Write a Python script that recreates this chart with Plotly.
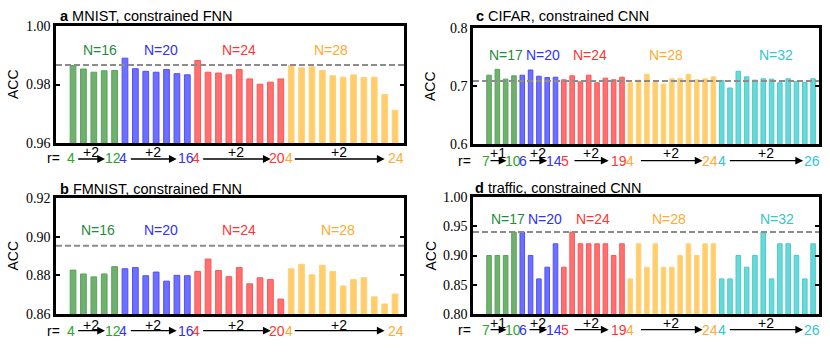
import plotly.graph_objects as go

W, H = 830, 355

# accuracy values (one list per N group)
mnist_n16 = [0.9865, 0.9853, 0.9842, 0.9847, 0.9848]
mnist_n20 = [0.9890, 0.9854, 0.9845, 0.9842, 0.9851, 0.9837, 0.9833]
mnist_n24 = [0.9882, 0.9842, 0.9839, 0.9833, 0.9851, 0.9819, 0.9801, 0.9808, 0.9819]
mnist_n28 = [0.9865, 0.9857, 0.9861, 0.9848, 0.9830, 0.9825, 0.9833, 0.9824, 0.9825, 0.9766, 0.9712]
mnist_ref = 0.9867

fmnist_n16 = [0.8827, 0.8807, 0.8792, 0.8807, 0.8845]
fmnist_n20 = [0.8834, 0.8840, 0.8798, 0.8817, 0.8770, 0.8800, 0.8798]
fmnist_n24 = [0.8820, 0.8884, 0.8825, 0.8793, 0.8840, 0.8756, 0.8787, 0.8778, 0.8677]
fmnist_n28 = [0.8834, 0.8857, 0.8803, 0.8852, 0.8820, 0.8745, 0.8778, 0.8788, 0.8689, 0.8652, 0.8703]
fmnist_ref = 0.8953

cifar_n17 = [0.7186, 0.7287, 0.7118, 0.7175]
cifar_n20 = [0.7186, 0.7276, 0.7169, 0.7146, 0.7152]
cifar_n24 = [0.7107, 0.7175, 0.7073, 0.7186, 0.7056, 0.7135, 0.7107, 0.7152]
cifar_n28 = [0.7056, 0.7101, 0.7203, 0.7079, 0.7034, 0.7124, 0.7130, 0.7203, 0.7107, 0.7124, 0.7158]
cifar_n32 = [0.7096, 0.6966, 0.7254, 0.7158, 0.7101, 0.7124, 0.7118, 0.7056, 0.7124, 0.7079, 0.7062, 0.7124]
cifar_ref = 0.7085

traffic_n17 = [0.90, 0.90, 0.90, 0.94]
traffic_n20 = [0.94, 0.90, 0.86, 0.88, 0.92]
traffic_n24 = [0.88, 0.94, 0.92, 0.92, 0.92, 0.92, 0.90, 0.92]
traffic_n28 = [0.86, 0.92, 0.88, 0.92, 0.88, 0.88, 0.90, 0.92, 0.90, 0.92, 0.92]
traffic_n32 = [0.86, 0.86, 0.90, 0.88, 0.90, 0.94, 0.86, 0.92, 0.92, 0.90, 0.86, 0.92]
traffic_ref = 0.94

fnn_sizes = [16, 20, 24, 28]
fnn_r_start = [4, 4, 4, 4]
fnn_r_end = [12, 16, 20, 24]
fnn_r_step = [2, 2, 2, 2]
cnn_sizes = [17, 20, 24, 28, 32]
cnn_r_start = [7, 6, 5, 4, 4]
cnn_r_end = [10, 14, 19, 24, 26]
cnn_r_step = [1, 2, 2, 2, 2]

# bar fill, bar edge, N-label text, r-label text
COLORS = [
    ("#70b070", "#58a458", "#1f8c3c", "#2aa52a"),
    ("#6e6eff", "#5050ff", "#3030ff", "#3030ff"),
    ("#ff7070", "#ff5555", "#ff3535", "#ff3535"),
    ("#ffcd6c", "#ffd27a", "#ffaa30", "#ffaa30"),
    ("#68d8d8", "#48cccc", "#30c6d2", "#30c6d2"),
]

# layout for the bottom r-labels (in bar units)
fnn_lab = dict(r_x=-1.92, start_x=[-0.22, 4.84, 11.87, 20.76], end_x=[3.85, 10.86, 19.63, 31.07],
               arrows=[(0.35, 3.08), (5.42, 9.98), (12.38, 19.03), (21.2, 30.0)])
cnn_lab = dict(r_x=-3.0, start_x=[-0.4, 4.1, 9.2, 17.0, 28.0], end_x=[2.9, 7.8, 15.6, 26.6, 38.9],
               arrows=[(0.0, 2.1), (4.7, 7.0), (10.1, 14.4), (18.1, 25.7), (28.8, 37.8)])

panels = [
    dict(letter="a", title="MNIST, constrained FNN", groups=[mnist_n16, mnist_n20, mnist_n24, mnist_n28],
         sizes=fnn_sizes, rs=fnn_r_start, re=fnn_r_end, rstep=fnn_r_step, ref=mnist_ref,
         yrange=[0.96, 1.0], ticks=[0.96, 0.98, 1.0], fmt=".2f",
         box=(56, 404, 26, 143), xr=(-1.64, 31.86), title_xy=(58, 16), acc_x=12.5,
         n_y=50, n_x=[2.57, 8.45, 16.0, 24.8], lab_y=158, step_y=151.5, arrow_y=159, lab=fnn_lab),
    dict(letter="b", title="FMNIST, constrained FNN", groups=[fmnist_n16, fmnist_n20, fmnist_n24, fmnist_n28],
         sizes=fnn_sizes, rs=fnn_r_start, re=fnn_r_end, rstep=fnn_r_step, ref=fmnist_ref,
         yrange=[0.86, 0.92], ticks=[0.86, 0.88, 0.90, 0.92], fmt=".2f",
         box=(56, 404, 198, 314), xr=(-1.64, 31.86), title_xy=(58, 189.5), acc_x=12.5,
         n_y=230, n_x=[2.44, 8.45, 16.0, 25.5], lab_y=331, step_y=324.5, arrow_y=330.7, lab=fnn_lab),
    dict(letter="c", title="CIFAR, constrained CNN", groups=[cifar_n17, cifar_n20, cifar_n24, cifar_n28, cifar_n32],
         sizes=cnn_sizes, rs=cnn_r_start, re=cnn_r_end, rstep=cnn_r_step, ref=cifar_ref,
         yrange=[0.6, 0.8], ticks=[0.6, 0.7, 0.8], fmt=".1f",
         box=(473, 819, 28, 144), xr=(-1.93, 39.71), title_xy=(474, 16), acc_x=430,
         n_y=55, n_x=[2.0, 6.44, 12.1, 21.3, 34.5], lab_y=161, step_y=153.3, arrow_y=160.7, lab=cnn_lab),
    dict(letter="d", title="traffic, constrained CNN", groups=[traffic_n17, traffic_n20, traffic_n24, traffic_n28, traffic_n32],
         sizes=cnn_sizes, rs=cnn_r_start, re=cnn_r_end, rstep=cnn_r_step, ref=traffic_ref,
         yrange=[0.8, 1.0], ticks=[0.80, 0.85, 0.90, 0.95, 1.00], fmt=".2f",
         box=(473, 819, 197, 314), xr=(-1.93, 39.71), title_xy=(473, 188), acc_x=430,
         n_y=218.7, n_x=[2.33, 6.7, 12.55, 21.6, 34.7], lab_y=329.7, step_y=323, arrow_y=329.7, lab=cnn_lab),
]

fig = go.Figure()
layout = {}
ann = []
shapes = []
SANS = "Liberation Sans, Arial, sans-serif"


def py(v):
    return 1 - v / H


def label(x, y, text, color="black", size=14, **kw):
    d = dict(xref="paper", yref="paper", x=x, y=y, text=text, showarrow=False,
             xanchor="center", yanchor="middle",
             font=dict(family=SANS, size=size, color=color))
    d.update(kw)
    return d


for i, p in enumerate(panels, start=1):
    sfx = "" if i == 1 else str(i)
    xa, ya = "x" + sfx, "y" + sfx
    x0, x1, y0, y1 = p["box"]
    xr0, xr1 = p["xr"]

    def bx(b):
        return (x0 + (b - xr0) / (xr1 - xr0) * (x1 - x0)) / W

    start = 0
    for g, vals in enumerate(p["groups"]):
        col = COLORS[g]
        xs = list(range(start, start + len(vals)))
        fig.add_trace(go.Bar(x=xs, y=vals, xaxis=xa, yaxis=ya, width=0.55,
                             marker=dict(color=col[0], line=dict(color=col[1], width=1)),
                             showlegend=False, hoverinfo="y"))
        lab = p["lab"]
        ann.append(label(bx(p["n_x"][g]), py(p["n_y"]), f"N={p['sizes'][g]}", col[2]))
        ann.append(label(bx(lab["start_x"][g]), py(p["lab_y"]), str(p["rs"][g]), col[3]))
        ann.append(label(bx(lab["end_x"][g]), py(p["lab_y"]), str(p["re"][g]), col[3]))
        a0, a1 = lab["arrows"][g]
        ann.append(dict(xref="paper", yref="paper", x=bx(a1), y=py(p["arrow_y"]),
                        ax=-(bx(a1) - bx(a0)) * W, ay=0, axref="pixel", ayref="pixel",
                        text="", showarrow=True, arrowhead=2, arrowsize=1.2,
                        arrowwidth=1.3, arrowcolor="black", standoff=0, startstandoff=0))
        ann.append(label(bx((a0 + a1) / 2), py(p["step_y"]), f"+{p['rstep'][g]}"))
        start += len(vals)

    ann.append(label(bx(p["lab"]["r_x"]), py(p["lab_y"]), "r="))
    ann.append(label(p["title_xy"][0] / W, py(p["title_xy"][1]),
                     f"<b>{p['letter']}</b> {p['title']}", size=14.5, xanchor="left"))
    ann.append(label(p["acc_x"] / W, py((y0 + y1) / 2), "ACC", textangle=-90))

    shapes.append(dict(type="line", xref=xa + " domain", x0=0, x1=1, yref=ya, y0=p["ref"], y1=p["ref"],
                       line=dict(color="#8c8c8c", width=2, dash="6px,3px")))

    layout["xaxis" + sfx] = dict(domain=[x0 / W, x1 / W], range=list(p["xr"]), anchor=ya,
                                 showline=True, linewidth=2.5, linecolor="black", mirror=True,
                                 ticks="", showticklabels=False, showgrid=False, zeroline=False,
                                 automargin=False)
    layout["yaxis" + sfx] = dict(domain=[1 - y1 / H, 1 - y0 / H], range=p["yrange"], anchor=xa,
                                 tickvals=p["ticks"], tickformat=p["fmt"], ticks="inside",
                                 ticklen=4, tickwidth=1.5, tickcolor="black",
                                 showline=True, linewidth=2.5, linecolor="black", mirror="ticks",
                                 showgrid=False, zeroline=False, automargin=False,
                                 tickfont=dict(family="Liberation Serif, Times New Roman, serif",
                                               size=14, color="black"))

fig.update_layout(width=W, height=H, margin=dict(l=0, r=0, t=0, b=0, autoexpand=False),
                  plot_bgcolor="white", paper_bgcolor="white", barmode="overlay",
                  annotations=ann, shapes=shapes, **layout)

fig.write_html("out.html", config={"displayModeBar": False},
               post_script="document.body.style.margin='0';")
